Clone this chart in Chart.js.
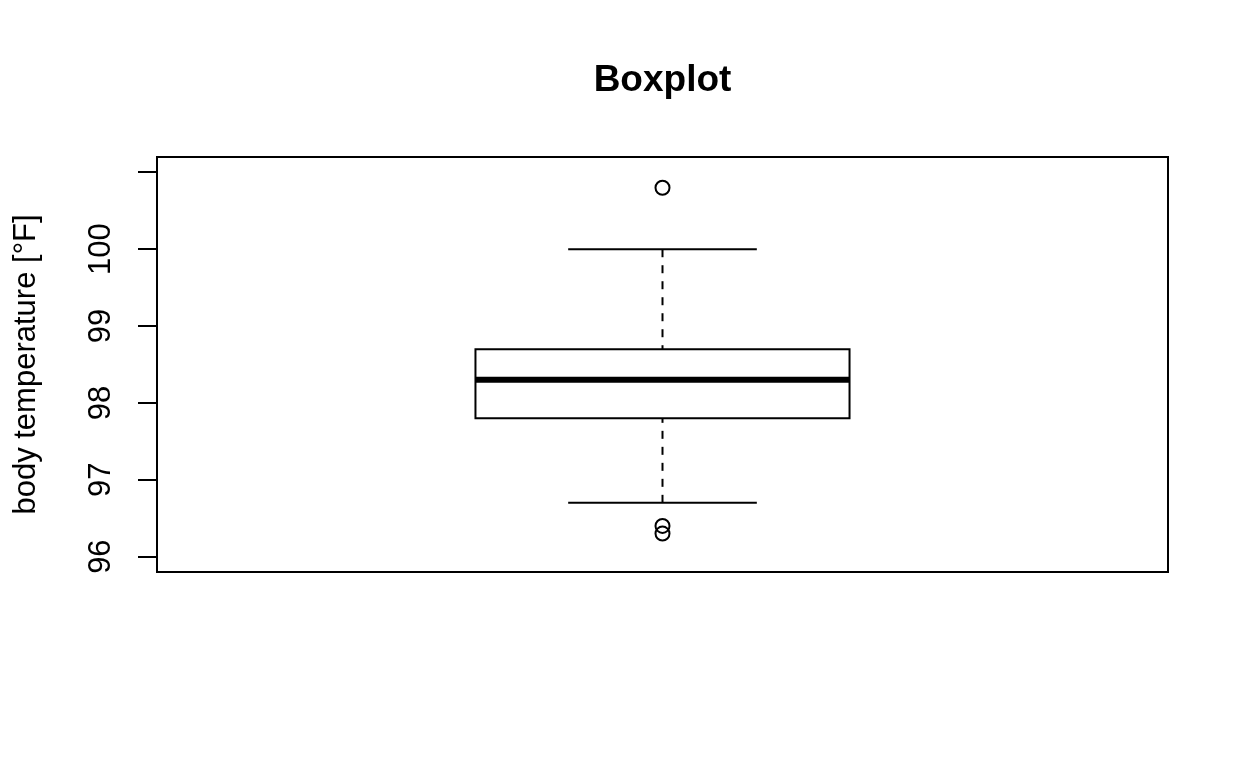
<!DOCTYPE html>
<html>
<head>
<meta charset="utf-8">
<script src="https://cdn.jsdelivr.net/npm/chart.js@4/dist/chart.umd.min.js"></script>
<style>
  html, body { margin: 0; padding: 0; background: #ffffff; }
  #wrap { width: 1248px; height: 768px; position: relative; }
</style>
</head>
<body>
<div id="wrap"><canvas id="c"></canvas></div>
<script>
// ---- data ----
const chartTitle = 'Boxplot';
const yAxisTitle = 'body temperature [°F]';
const whiskerLow = [96.7];
const quartile1 = [97.8];
const medianVal = [98.3];
const quartile3 = [98.7];
const whiskerHigh = [100.0];
const outlierValues = [100.8, 96.4, 96.3];
const tickValues = [96, 97, 98, 99, 100, 101];
const tickLabels = ['96', '97', '98', '99', '100', ''];
const yLimits = [95.8, 101.2];

// ---- styling / layout constants ----
const center = 0;
const boxHalf = 0.37;
const stapleHalf = 0.1866;
const FONT = '"Liberation Sans", Arial, Helvetica, sans-serif';

function seg(x1, y1, x2, y2) { return [{x: x1, y: y1}, {x: x2, y: y2}]; }

const datasets = [
  { // box
    data: [
      {x: center - boxHalf, y: quartile1[0]},
      {x: center + boxHalf, y: quartile1[0]},
      {x: center + boxHalf, y: quartile3[0]},
      {x: center - boxHalf, y: quartile3[0]},
      {x: center - boxHalf, y: quartile1[0]}
    ],
    showLine: true, borderColor: '#000', borderWidth: 2, pointRadius: 0,
    borderJoinStyle: 'miter', borderCapStyle: 'square', fill: false, tension: 0
  },
  { // median
    data: seg(center - boxHalf, medianVal[0], center + boxHalf, medianVal[0]),
    showLine: true, borderColor: '#000', borderWidth: 6, pointRadius: 0, borderCapStyle: 'butt'
  },
  { // upper whisker (drawn from whisker end to box)
    data: seg(center, whiskerHigh[0], center, quartile3[0]),
    showLine: true, borderColor: '#000', borderWidth: 2, pointRadius: 0, borderDash: [8, 8], borderCapStyle: 'butt'
  },
  { // lower whisker
    data: seg(center, whiskerLow[0], center, quartile1[0]),
    showLine: true, borderColor: '#000', borderWidth: 2, pointRadius: 0, borderDash: [8, 8], borderCapStyle: 'butt'
  },
  { // upper staple
    data: seg(center - stapleHalf, whiskerHigh[0], center + stapleHalf, whiskerHigh[0]),
    showLine: true, borderColor: '#000', borderWidth: 2, pointRadius: 0, borderCapStyle: 'butt'
  },
  { // lower staple
    data: seg(center - stapleHalf, whiskerLow[0], center + stapleHalf, whiskerLow[0]),
    showLine: true, borderColor: '#000', borderWidth: 2, pointRadius: 0, borderCapStyle: 'butt'
  },
  { // outliers
    data: outlierValues.map(v => ({x: center, y: v})),
    showLine: false, pointStyle: 'circle', pointRadius: 7, pointBorderWidth: 2,
    pointBorderColor: '#000', pointBackgroundColor: 'rgba(0,0,0,0)'
  }
];

const rDecor = {
  id: 'rDecor',
  afterDraw(chart) {
    const ctx = chart.ctx;
    const a = chart.chartArea;
    const ys = chart.scales.y;
    ctx.save();
    // frame
    ctx.strokeStyle = '#000';
    ctx.lineWidth = 2;
    ctx.strokeRect(a.left, a.top, a.right - a.left, a.bottom - a.top);
    // tick labels (rotated, parallel to axis)
    ctx.fillStyle = '#000';
    ctx.font = '31px ' + FONT;
    ctx.textAlign = 'center';
    ctx.textBaseline = 'alphabetic';
    tickValues.forEach((v, i) => {
      const lab = tickLabels[i];
      if (!lab) return;
      const py = ys.getPixelForValue(v);
      ctx.save();
      ctx.translate(110, py);
      ctx.rotate(-Math.PI / 2);
      ctx.fillText(lab, 0, 0);
      ctx.restore();
    });
    // y axis title
    ctx.save();
    ctx.translate(35, (a.top + a.bottom) / 2);
    ctx.rotate(-Math.PI / 2);
    ctx.fillText(yAxisTitle, 0, 0);
    ctx.restore();
    // main title
    ctx.font = 'bold 37px ' + FONT;
    ctx.fillText(chartTitle, (a.left + a.right) / 2, 91);
    ctx.restore();
  }
};

new Chart(document.getElementById('c'), {
  type: 'scatter',
  data: { datasets },
  plugins: [rDecor],
  options: {
    responsive: true,
    maintainAspectRatio: false,
    animation: false,
    devicePixelRatio: 1,
    events: [],
    layout: { padding: { left: 138, top: 157, right: 80, bottom: 196 } },
    plugins: { legend: { display: false }, tooltip: { enabled: false }, title: { display: false } },
    scales: {
      x: { type: 'linear', display: false, min: -1, max: 1 },
      y: {
        type: 'linear', position: 'left', min: yLimits[0], max: yLimits[1],
        afterBuildTicks: (scale) => { scale.ticks = tickValues.map(v => ({value: v})); },
        ticks: { display: false },
        border: { display: false },
        grid: { display: true, drawOnChartArea: false, drawTicks: true, tickLength: 19,
                tickColor: '#000', tickWidth: 2, color: '#000', lineWidth: 2 }
      }
    }
  }
});
</script>
</body>
</html>
